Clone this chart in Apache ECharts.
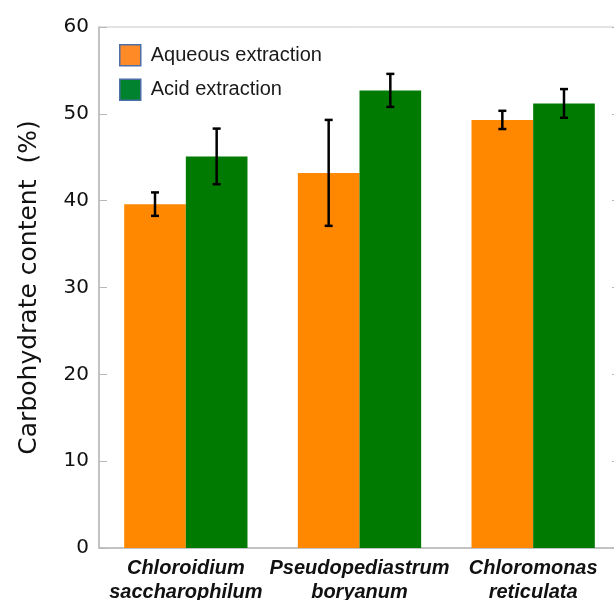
<!DOCTYPE html>
<html>
<head>
<meta charset="utf-8">
<script src="https://cdn.jsdelivr.net/npm/echarts@6/dist/echarts.min.js"></script>
<style>
html,body{margin:0;padding:0;overflow:hidden;background:#fff;width:614px;height:600px;}
#chart{width:622px;height:600px;}
</style>
</head>
<body>
<div id="chart"></div>
<script>
var categories = ['Chloroidium\nsaccharophilum', 'Pseudopediastrum\nboryanum', 'Chloromonas\nreticulata'];
var seriesNames = ['Aqueous extraction', 'Acid extraction'];
var aqueous = [39.6, 43.2, 49.3];
var aqueousErr = [1.35, 6.1, 1.05];
var acid = [45.1, 52.7, 51.2];
var acidErr = [3.2, 1.9, 1.65];
var yTicks = [0, 10, 20, 30, 40, 50, 60];

var CAT_GAP = 0.29;
var chart = echarts.init(document.getElementById('chart'), null, {renderer: 'canvas'});

function errSeries(vals, errs, sign) {
  var data = vals.map(function (v, i) { return [i, v - errs[i], v + errs[i]]; });
  return {
    type: 'custom',
    z: 10,
    silent: true,
    data: data,
    renderItem: function (params, api) {
      var i = api.value(0);
      var lo = api.coord([i, api.value(1)]);
      var hi = api.coord([i, api.value(2)]);
      var band = api.size([1, 0])[0];
      var off = sign * band * (1 - CAT_GAP) / 4;
      var x = lo[0] + off;
      var cap = 4;
      var st = {stroke: '#000', lineWidth: 2.5};
      return {
        type: 'group',
        children: [
          {type: 'line', shape: {x1: x, y1: lo[1], x2: x, y2: hi[1]}, style: st},
          {type: 'line', shape: {x1: x - cap, y1: lo[1], x2: x + cap, y2: lo[1]}, style: st},
          {type: 'line', shape: {x1: x - cap, y1: hi[1], x2: x + cap, y2: hi[1]}, style: st}
        ]
      };
    }
  };
}

var option = {
  animation: false,
  backgroundColor: '#fff',
  grid: {left: 99, right: 2, top: 27, bottom: 52, show: true, borderColor: '#c8c8c8', borderWidth: 1,
    outerBoundsMode: 'none', containLabel: false},
  legend: {
    orient: 'vertical', left: 119, top: 44, padding: 0,
    itemWidth: 21, itemHeight: 21, itemGap: 12,
    icon: 'rect',
    textStyle: {fontFamily: 'Liberation Sans', fontSize: 20, color: '#1a1a1a', padding: [0, 0, 0, 5]},
    data: [
      {name: seriesNames[0], itemStyle: {color: '#FF8A26', borderColor: '#4d6fa8', borderWidth: 1.5}},
      {name: seriesNames[1], itemStyle: {color: '#00822E', borderColor: '#4d6fa8', borderWidth: 1.5}}
    ]
  },
  xAxis: {
    type: 'category',
    data: categories,
    axisLine: {lineStyle: {color: '#b8b8b8', width: 1.5}},
    axisTick: {show: false},
    axisLabel: {fontFamily: 'Liberation Sans', fontSize: 20, fontWeight: 'bold', fontStyle: 'italic', color: '#111', lineHeight: 24, margin: 8, interval: 0}
  },
  yAxis: [{
    type: 'value', min: 0, max: 60, interval: 10,
    name: 'Carbohydrate content  (%)',
    nameLocation: 'middle', nameGap: 57,
    nameTextStyle: {fontFamily: 'DejaVu Sans', fontSize: 25, color: '#111'},
    axisLine: {show: true, lineStyle: {color: '#b8b8b8', width: 1.5}},
    axisTick: {show: true, inside: true, length: 8, lineStyle: {color: '#b8b8b8'}},
    axisLabel: {fontFamily: 'DejaVu Sans', fontSize: 20, color: '#111', margin: 10,
      formatter: function (v) { return yTicks.indexOf(v) >= 0 ? String(v) : ''; }},
    splitLine: {show: false}
  }, {
    type: 'value', min: 0, max: 60, interval: 10, position: 'right',
    axisLine: {show: true, lineStyle: {color: '#c8c8c8'}},
    axisTick: {show: true, inside: true, length: 8, lineStyle: {color: '#b8b8b8'}},
    axisLabel: {show: false},
    splitLine: {show: false}
  }],
  series: [
    {name: seriesNames[0], type: 'bar', data: aqueous, barGap: '0%', barCategoryGap: (CAT_GAP * 100) + '%',
      itemStyle: {color: '#FF8800'}},
    {name: seriesNames[1], type: 'bar', data: acid, barGap: '0%', barCategoryGap: (CAT_GAP * 100) + '%',
      itemStyle: {color: '#007A00'}},
    errSeries(aqueous, aqueousErr, -1),
    errSeries(acid, acidErr, 1)
  ]
};
chart.setOption(option);
</script>
</body>
</html>
